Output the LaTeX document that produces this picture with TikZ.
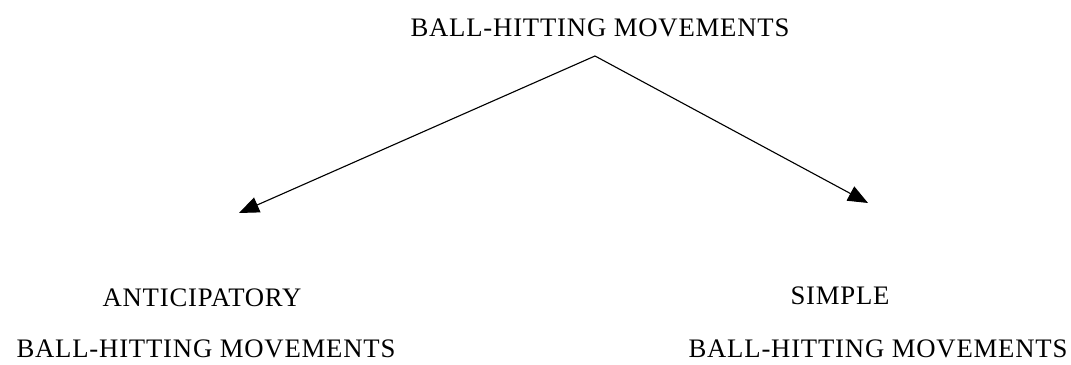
\documentclass[tikz,border=0pt]{standalone}
\usepackage{fontspec}
\setmainfont{Liberation Serif}[LetterSpace=3]
\usetikzlibrary{arrows.meta}

\begin{document}
\begin{tikzpicture}[x=0.025cm, y=-0.025cm,
    label/.style={font=\fontsize{19}{22}\selectfont, inner sep=0pt},
    branch/.style={line width=0.8pt, -{Triangle[length=0.5cm, width=0.4cm]}}]
  \useasboundingbox (0,0) rectangle (1071,365);
  \node[label] (top) at (600,28) {BALL-HITTING MOVEMENTS};
  \coordinate (apex) at (595,56);
  \coordinate (ltip) at (239,213);
  \coordinate (rtip) at (868,203);
  \draw[branch] (apex) -- (ltip);
  \draw[branch] (apex) -- (rtip);
  \node[label] (antic) at (202,298) {ANTICIPATORY};
  \node[label] (anticbhm) at (206,349) {BALL-HITTING MOVEMENTS};
  \node[label] (simple) at (840,296) {SIMPLE};
  \node[label] (simplebhm) at (878,349) {BALL-HITTING MOVEMENTS};
\end{tikzpicture}
\end{document}
